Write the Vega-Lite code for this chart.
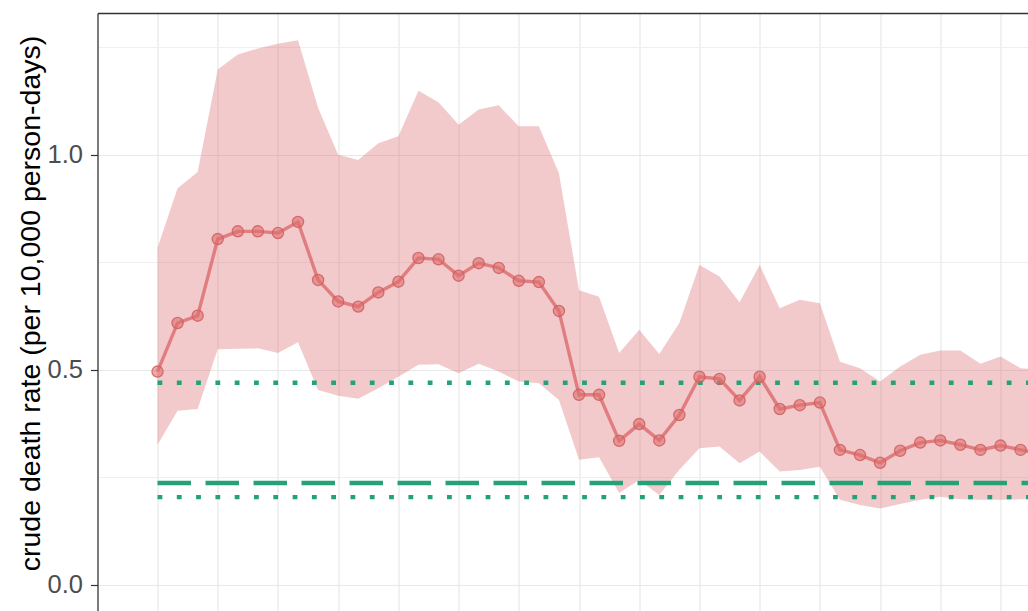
{
  "$schema": "https://vega.github.io/schema/vega-lite/v6.json",
  "width": 930.5,
  "height": 598,
  "autosize": {"type": "none"},
  "padding": {"left": 97.5, "top": 13, "right": 0, "bottom": 0},
  "background": "white",
  "config": {"view": {"stroke": null}, "font": "Liberation Sans"},
  "data": {"values": [
    {"week": 0, "rate": 0.496, "lo": 0.326, "hi": 0.784, "ref": 0.237, "ref_lo": 0.204, "ref_hi": 0.470},
    {"week": 1, "rate": 0.609, "lo": 0.405, "hi": 0.922, "ref": 0.237, "ref_lo": 0.204, "ref_hi": 0.470},
    {"week": 2, "rate": 0.626, "lo": 0.409, "hi": 0.960, "ref": 0.237, "ref_lo": 0.204, "ref_hi": 0.470},
    {"week": 3, "rate": 0.804, "lo": 0.548, "hi": 1.198, "ref": 0.237, "ref_lo": 0.204, "ref_hi": 0.470},
    {"week": 4, "rate": 0.822, "lo": 0.549, "hi": 1.233, "ref": 0.237, "ref_lo": 0.204, "ref_hi": 0.470},
    {"week": 5, "rate": 0.822, "lo": 0.550, "hi": 1.247, "ref": 0.237, "ref_lo": 0.204, "ref_hi": 0.470},
    {"week": 6, "rate": 0.818, "lo": 0.539, "hi": 1.258, "ref": 0.237, "ref_lo": 0.204, "ref_hi": 0.470},
    {"week": 7, "rate": 0.844, "lo": 0.564, "hi": 1.266, "ref": 0.237, "ref_lo": 0.204, "ref_hi": 0.470},
    {"week": 8, "rate": 0.709, "lo": 0.453, "hi": 1.109, "ref": 0.237, "ref_lo": 0.204, "ref_hi": 0.470},
    {"week": 9, "rate": 0.659, "lo": 0.440, "hi": 1.000, "ref": 0.237, "ref_lo": 0.204, "ref_hi": 0.470},
    {"week": 10, "rate": 0.647, "lo": 0.433, "hi": 0.988, "ref": 0.237, "ref_lo": 0.204, "ref_hi": 0.470},
    {"week": 11, "rate": 0.680, "lo": 0.457, "hi": 1.027, "ref": 0.237, "ref_lo": 0.204, "ref_hi": 0.470},
    {"week": 12, "rate": 0.705, "lo": 0.484, "hi": 1.043, "ref": 0.237, "ref_lo": 0.204, "ref_hi": 0.470},
    {"week": 13, "rate": 0.760, "lo": 0.512, "hi": 1.149, "ref": 0.237, "ref_lo": 0.204, "ref_hi": 0.470},
    {"week": 14, "rate": 0.757, "lo": 0.513, "hi": 1.122, "ref": 0.237, "ref_lo": 0.204, "ref_hi": 0.470},
    {"week": 15, "rate": 0.719, "lo": 0.492, "hi": 1.070, "ref": 0.237, "ref_lo": 0.204, "ref_hi": 0.470},
    {"week": 16, "rate": 0.748, "lo": 0.514, "hi": 1.105, "ref": 0.237, "ref_lo": 0.204, "ref_hi": 0.470},
    {"week": 17, "rate": 0.737, "lo": 0.496, "hi": 1.115, "ref": 0.237, "ref_lo": 0.204, "ref_hi": 0.470},
    {"week": 18, "rate": 0.707, "lo": 0.473, "hi": 1.066, "ref": 0.237, "ref_lo": 0.204, "ref_hi": 0.470},
    {"week": 19, "rate": 0.704, "lo": 0.469, "hi": 1.066, "ref": 0.237, "ref_lo": 0.204, "ref_hi": 0.470},
    {"week": 20, "rate": 0.637, "lo": 0.430, "hi": 0.957, "ref": 0.237, "ref_lo": 0.204, "ref_hi": 0.470},
    {"week": 21, "rate": 0.442, "lo": 0.291, "hi": 0.685, "ref": 0.237, "ref_lo": 0.204, "ref_hi": 0.470},
    {"week": 22, "rate": 0.442, "lo": 0.297, "hi": 0.670, "ref": 0.237, "ref_lo": 0.204, "ref_hi": 0.470},
    {"week": 23, "rate": 0.335, "lo": 0.214, "hi": 0.539, "ref": 0.237, "ref_lo": 0.204, "ref_hi": 0.470},
    {"week": 24, "rate": 0.374, "lo": 0.244, "hi": 0.593, "ref": 0.237, "ref_lo": 0.204, "ref_hi": 0.470},
    {"week": 25, "rate": 0.336, "lo": 0.209, "hi": 0.537, "ref": 0.237, "ref_lo": 0.204, "ref_hi": 0.470},
    {"week": 26, "rate": 0.395, "lo": 0.268, "hi": 0.609, "ref": 0.237, "ref_lo": 0.204, "ref_hi": 0.470},
    {"week": 27, "rate": 0.484, "lo": 0.318, "hi": 0.744, "ref": 0.237, "ref_lo": 0.204, "ref_hi": 0.470},
    {"week": 28, "rate": 0.479, "lo": 0.322, "hi": 0.717, "ref": 0.237, "ref_lo": 0.204, "ref_hi": 0.470},
    {"week": 29, "rate": 0.429, "lo": 0.283, "hi": 0.657, "ref": 0.237, "ref_lo": 0.204, "ref_hi": 0.470},
    {"week": 30, "rate": 0.484, "lo": 0.310, "hi": 0.744, "ref": 0.237, "ref_lo": 0.204, "ref_hi": 0.470},
    {"week": 31, "rate": 0.409, "lo": 0.264, "hi": 0.643, "ref": 0.237, "ref_lo": 0.204, "ref_hi": 0.470},
    {"week": 32, "rate": 0.418, "lo": 0.267, "hi": 0.663, "ref": 0.237, "ref_lo": 0.204, "ref_hi": 0.470},
    {"week": 33, "rate": 0.424, "lo": 0.275, "hi": 0.655, "ref": 0.237, "ref_lo": 0.204, "ref_hi": 0.470},
    {"week": 34, "rate": 0.314, "lo": 0.198, "hi": 0.519, "ref": 0.237, "ref_lo": 0.204, "ref_hi": 0.470},
    {"week": 35, "rate": 0.302, "lo": 0.186, "hi": 0.504, "ref": 0.237, "ref_lo": 0.204, "ref_hi": 0.470},
    {"week": 36, "rate": 0.284, "lo": 0.178, "hi": 0.473, "ref": 0.237, "ref_lo": 0.204, "ref_hi": 0.470},
    {"week": 37, "rate": 0.312, "lo": 0.188, "hi": 0.508, "ref": 0.237, "ref_lo": 0.204, "ref_hi": 0.470},
    {"week": 38, "rate": 0.331, "lo": 0.198, "hi": 0.535, "ref": 0.237, "ref_lo": 0.204, "ref_hi": 0.470},
    {"week": 39, "rate": 0.336, "lo": 0.205, "hi": 0.545, "ref": 0.237, "ref_lo": 0.204, "ref_hi": 0.470},
    {"week": 40, "rate": 0.326, "lo": 0.199, "hi": 0.545, "ref": 0.237, "ref_lo": 0.204, "ref_hi": 0.470},
    {"week": 41, "rate": 0.314, "lo": 0.198, "hi": 0.514, "ref": 0.237, "ref_lo": 0.204, "ref_hi": 0.470},
    {"week": 42, "rate": 0.324, "lo": 0.198, "hi": 0.531, "ref": 0.237, "ref_lo": 0.204, "ref_hi": 0.470},
    {"week": 43, "rate": 0.314, "lo": 0.199, "hi": 0.504, "ref": 0.237, "ref_lo": 0.204, "ref_hi": 0.470},
    {"week": 44, "rate": 0.305, "lo": 0.199, "hi": 0.500, "ref": 0.237, "ref_lo": 0.204, "ref_hi": 0.470}
  ]},
  "layer": [
    {
      "mark": {"type": "area", "color": "#D9686E", "opacity": 0.35, "clip": true},
      "encoding": {
        "x": {"field": "week", "type": "quantitative",
              "scale": {"domain": [-2.99, 43.37], "nice": false, "zero": false},
              "axis": {"orient": "bottom", "values": [0,3,6,9,12,15,18,21,24,27,30,33,36,39,42],
                       "grid": true, "gridColor": "#E8E8E8", "gridWidth": 1.2,
                       "labels": false, "ticks": false, "domain": false, "title": null}},
        "y": {"field": "lo", "type": "quantitative",
              "scale": {"domain": [-0.0605, 1.3295], "nice": false, "zero": false},
              "axis": {"orient": "left", "values": [0, 0.5, 1.0], "format": ".1f",
                       "grid": true, "gridColor": "#E8E8E8", "gridWidth": 1.2,
                       "labelFontSize": 25.5, "labelColor": "#4D4D4D", "labelFont": "Liberation Sans",
                       "labelPadding": 8,
                       "ticks": true, "tickSize": 7, "tickColor": "#333333", "tickWidth": 1.2,
                       "domain": true, "domainColor": "#333333", "domainWidth": 1.3,
                       "title": "crude death rate (per 10,000 person-days)",
                       "titleFont": "Liberation Sans", "titleFontSize": 28.5, "titleFontWeight": "normal",
                       "titleColor": "#000000", "titlePadding": 2, "titleY": 290}},
        "y2": {"field": "hi"}
      }
    },
    {
      "mark": {"type": "line", "color": "#23A27A", "strokeWidth": 4.3, "strokeDash": [4.8, 14.5], "strokeCap": "butt", "clip": true},
      "encoding": {
        "x": {"field": "week", "type": "quantitative", "scale": {"domain": [-2.99, 43.37], "nice": false, "zero": false}, "axis": null},
        "y": {"field": "ref_hi", "type": "quantitative", "scale": {"domain": [-0.0605, 1.3295], "nice": false, "zero": false},
              "axis": {"orient": "right", "values": [0.25, 0.75, 1.25], "grid": true, "gridColor": "#EFEFEF", "gridWidth": 1,
                       "labels": false, "ticks": false, "domain": false, "title": null}}
      }
    },
    {
      "mark": {"type": "line", "color": "#23A27A", "strokeWidth": 4.3, "strokeDash": [4.8, 14.5], "strokeCap": "butt", "clip": true},
      "encoding": {
        "x": {"field": "week", "type": "quantitative", "scale": {"domain": [-2.99, 43.37], "nice": false, "zero": false}, "axis": null},
        "y": {"field": "ref_lo", "type": "quantitative", "scale": {"domain": [-0.0605, 1.3295], "nice": false, "zero": false}, "axis": null}
      }
    },
    {
      "mark": {"type": "line", "color": "#23A27A", "strokeWidth": 4.3, "strokeDash": [33.5, 14.5], "strokeCap": "butt", "clip": true},
      "encoding": {
        "x": {"field": "week", "type": "quantitative", "scale": {"domain": [-2.99, 43.37], "nice": false, "zero": false}, "axis": null},
        "y": {"field": "ref", "type": "quantitative", "scale": {"domain": [-0.0605, 1.3295], "nice": false, "zero": false}, "axis": null}
      }
    },
    {
      "mark": {"type": "line", "color": "#DE7070", "strokeWidth": 3.4, "opacity": 0.85, "clip": true},
      "encoding": {
        "x": {"field": "week", "type": "quantitative", "scale": {"domain": [-2.99, 43.37], "nice": false, "zero": false},
              "axis": {"orient": "top", "domain": true, "domainColor": "#333333", "domainWidth": 1.3,
                       "labels": false, "ticks": false, "grid": false, "title": null}},
        "y": {"field": "rate", "type": "quantitative", "scale": {"domain": [-0.0605, 1.3295], "nice": false, "zero": false}, "axis": null}
      }
    },
    {
      "mark": {"type": "point", "shape": "circle", "filled": true, "size": 125, "fill": "#DE6E6E", "fillOpacity": 0.6, "stroke": "#D05E5E", "strokeWidth": 1.3, "strokeOpacity": 0.85, "clip": true},
      "encoding": {
        "x": {"field": "week", "type": "quantitative", "scale": {"domain": [-2.99, 43.37], "nice": false, "zero": false}, "axis": null},
        "y": {"field": "rate", "type": "quantitative", "scale": {"domain": [-0.0605, 1.3295], "nice": false, "zero": false}, "axis": null}
      }
    }
  ]
}
